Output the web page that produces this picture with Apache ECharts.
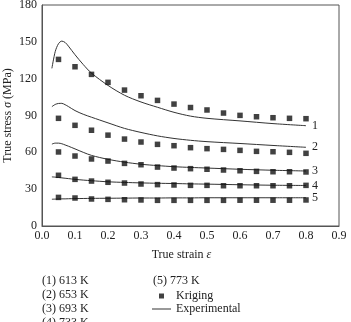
<!DOCTYPE html>
<html>
<head>
<meta charset="utf-8">
<script src="https://cdn.jsdelivr.net/npm/echarts@6/dist/echarts.min.js"></script>
<style>
  html, body { margin: 0; padding: 0; background: #fff; }
  #chart { width: 351px; height: 322px; }
</style>
</head>
<body>
<div id="chart"></div>
<script>
// kriging predictions (squares)
var strain = [0.05, 0.1, 0.15, 0.2, 0.25, 0.3, 0.35, 0.4, 0.45, 0.5, 0.55, 0.6, 0.65, 0.7, 0.75, 0.8];
var kriging1 = [135.7, 129.7, 123.5, 117, 110.7, 106.1, 102.3, 99.3, 96.5, 94.5, 92, 90.1, 89, 88.2, 87.7, 87.4];
var kriging2 = [87.7, 82, 78, 74, 70.8, 68.4, 66.5, 65.4, 63.8, 63, 62.4, 61.6, 60.8, 60.5, 60, 59.2];
var kriging3 = [60.3, 57, 54.6, 52.9, 51, 49.9, 48, 47.2, 46.7, 46.2, 45.6, 45, 44.5, 44.2, 44.2, 44];
var kriging4 = [41.3, 38, 36.6, 35.6, 35, 34.2, 33.7, 33.4, 33.1, 33.1, 32.8, 32.8, 32.8, 32.8, 32.8, 33.1];
var kriging5 = [23.3, 22.8, 22, 21.7, 21.4, 21.2, 20.9, 20.9, 20.9, 20.9, 20.9, 21, 21, 21, 21, 21.2];

// experimental curves (lines)
var expStrain = [0.03, 0.04, 0.05, 0.06, 0.07, 0.08, 0.1, 0.125, 0.15, 0.2, 0.25, 0.3, 0.35, 0.4, 0.45, 0.5, 0.6, 0.7, 0.8];
var exp1 = [128.4, 142, 148.5, 150.6, 149.5, 146.5, 139.5, 131.5, 124.5, 114.5, 106.5, 101, 96.7, 92.6, 89.5, 87.7, 85.6, 83.4, 81.7];
var exp2 = [97.2, 99, 99.8, 99.9, 98.8, 97.3, 94, 91, 88.6, 84, 79.5, 76.2, 73.4, 71.3, 69.8, 68.7, 67.2, 65.6, 64.1];
var exp3 = [66.7, 67.5, 67.5, 67, 66, 65, 62.8, 60, 57.5, 54.3, 52, 50.3, 49.2, 48.3, 47.7, 47.2, 46.2, 45.4, 44.8];
var exp4 = [40, 39.8, 39.5, 39.2, 38.9, 38.6, 38, 37.4, 36.9, 36, 35.5, 35.1, 34.8, 34.6, 34.3, 34.1, 33.6, 33.2, 33];
var exp5 = [21.8, 21.9, 22, 22.1, 22.1, 22.2, 22.3, 22.4, 22.5, 22.6, 22.7, 22.8, 22.8, 22.9, 22.9, 23, 23, 23, 23];

var curveLabels = ['1', '2', '3', '4', '5'];
var temps = ['(1) 613 K', '(2) 653 K', '(3) 693 K', '(4) 733 K', '(5) 773 K'];

var font = 'Liberation Serif';
var ink = '#222';

function pairs(xs, ys) {
  return xs.map(function (x, i) { return [x, ys[i]]; });
}

var krigingSets = [kriging1, kriging2, kriging3, kriging4, kriging5];
var expSets = [exp1, exp2, exp3, exp4, exp5];

var series = [];
expSets.forEach(function (ys, i) {
  series.push({
    name: 'Experimental',
    type: 'line',
    data: pairs(expStrain, ys),
    smooth: 0.3,
    symbol: 'none',
    lineStyle: { color: '#333', width: 1 },
    itemStyle: { color: '#333' },
    endLabel: {
      show: true,
      formatter: curveLabels[i],
      distance: 6,
      fontFamily: font,
      fontSize: 12,
      color: ink
    },
    z: 2
  });
});
krigingSets.forEach(function (ys) {
  series.push({
    name: 'Kriging',
    type: 'scatter',
    data: pairs(strain, ys),
    symbol: 'rect',
    symbolSize: 5.5,
    itemStyle: { color: '#111' },
    z: 3
  });
});

var graphics = [];
temps.forEach(function (t, i) {
  graphics.push({
    type: 'text',
    left: i < 4 ? 42 : 153,
    top: i < 4 ? 275 + i * 14 : 275,
    style: { text: t, font: '12px "' + font + '"', fill: ink }
  });
});

var chart = echarts.init(document.getElementById('chart'), null, { renderer: 'canvas' });
chart.setOption({
  animation: false,
  backgroundColor: '#fff',
  grid: {
    left: 42, right: 12, top: 5, bottom: 96,
    outerBoundsMode: 'none', containLabel: false,
    show: true, borderColor: '#555', borderWidth: 1
  },
  xAxis: {
    type: 'value', min: 0, max: 0.9, interval: 0.1,
    name: 'True strain {i|ε}', nameLocation: 'middle', nameGap: 23,
    nameMoveOverlap: false,
    nameTextStyle: {
      fontFamily: font, fontSize: 12, color: ink, padding: [0, 18, 0, 0],
      rich: { i: { fontFamily: font, fontStyle: 'italic', fontSize: 12, color: ink } }
    },
    axisLine: { show: true, lineStyle: { color: '#555' } },
    axisTick: { show: false },
    splitLine: { show: false },
    axisLabel: { fontFamily: font, fontSize: 12, color: ink, margin: 4, formatter: function (v) { return v.toFixed(1); } }
  },
  yAxis: {
    type: 'value', min: 0, max: 180, interval: 30,
    name: 'True stress {i|σ} (MPa)', nameLocation: 'middle', nameGap: 28,
    nameMoveOverlap: false,
    nameTextStyle: {
      fontFamily: font, fontSize: 12, color: ink,
      rich: { i: { fontFamily: font, fontStyle: 'italic', fontSize: 12, color: ink } }
    },
    axisLine: { show: true, lineStyle: { color: '#555' } },
    axisTick: { show: false },
    splitLine: { show: false },
    axisLabel: { fontFamily: font, fontSize: 12, color: ink, margin: 5 }
  },
  legend: {
    orient: 'vertical', left: 152, top: 290, padding: 0,
    itemWidth: 19, itemHeight: 5, itemGap: 1,
    symbolKeepAspect: true,
    data: [
      { name: 'Kriging', icon: 'path://M0,0H5V5H0Z', itemStyle: { color: '#111' } },
      { name: 'Experimental', icon: 'path://M0,0H19V1H0Z', itemStyle: { color: '#333' } }
    ],
    textStyle: { fontFamily: font, fontSize: 12, color: ink }
  },
  graphic: graphics,
  series: series
});
</script>
</body>
</html>
